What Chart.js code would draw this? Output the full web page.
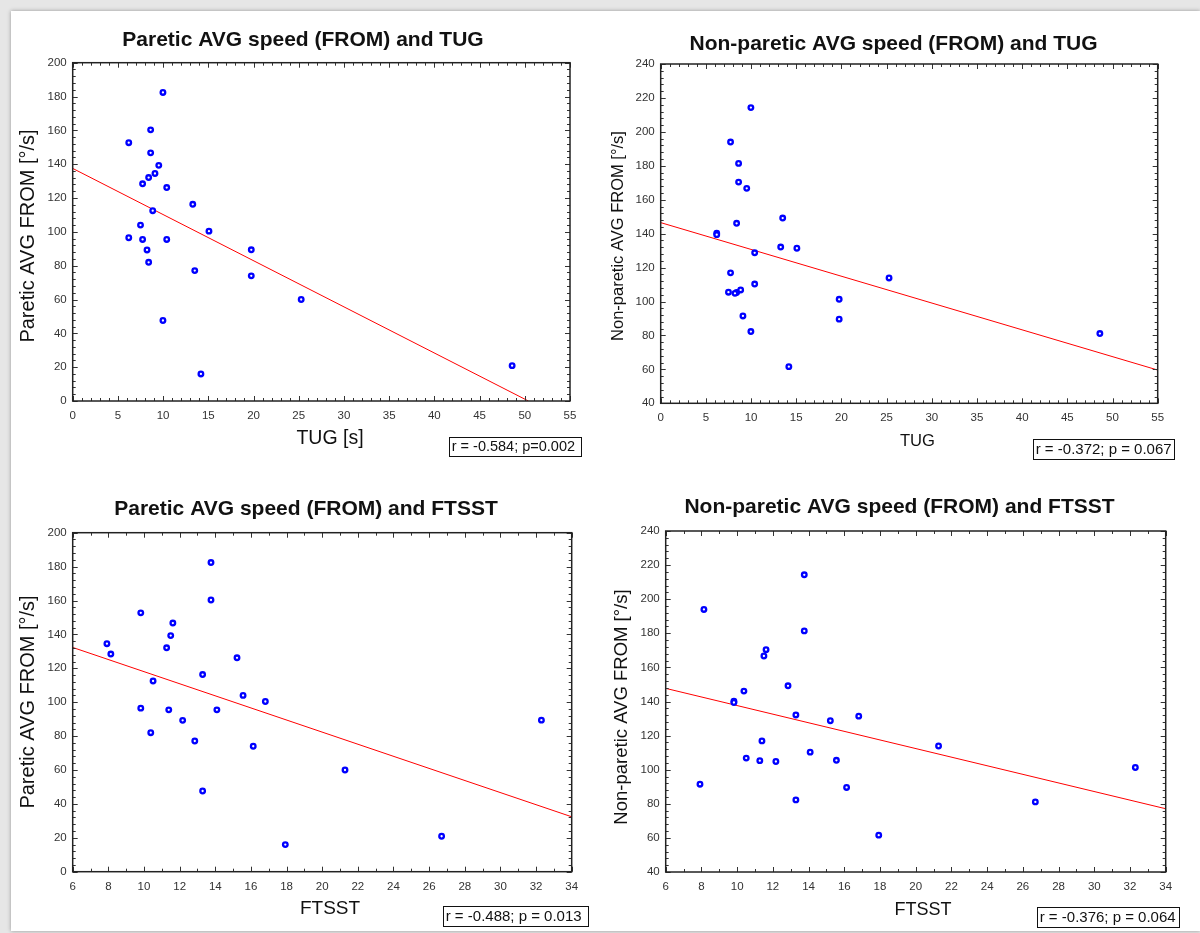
<!DOCTYPE html>
<html>
<head>
<meta charset="utf-8">
<title>AVG speed (FROM) vs TUG / FTSST</title>
<script src="https://cdn.jsdelivr.net/npm/chart.js@4.4.1/dist/chart.umd.min.js"></script>
<style>
  html, body { margin: 0; padding: 0; }
  body { width: 1200px; height: 933px; background: #e6e6e6; position: relative; overflow: hidden; }
  #sheet { position: absolute; left: 11px; top: 11px; width: 1189px; height: 920px; background: #fff; box-shadow: 0 0 4px rgba(0,0,0,0.35); }
  canvas { position: absolute; }
</style>
</head>
<body>
<div id="sheet"></div>
<canvas id="c1" width="600" height="468" style="left:0px;top:0px"></canvas>
<canvas id="c2" width="600" height="468" style="left:600px;top:0px"></canvas>
<canvas id="c3" width="600" height="465" style="left:0px;top:468px"></canvas>
<canvas id="c4" width="600" height="465" style="left:600px;top:468px"></canvas>
<script>
// one entry per subject
const tug        = [9.98, 8.62, 6.2, 8.62, 9.52, 9.1, 8.4, 7.73, 10.4, 13.28, 8.85, 7.5, 15.07, 6.2, 7.73, 10.4, 8.22, 19.75, 8.4, 13.5, 19.75, 25.27, 9.98, 48.6, 14.18];
const ftsst      = [13.76, 13.76, 9.82, 11.62, 11.5, 7.92, 11.27, 8.14, 15.22, 13.29, 10.51, 15.56, 16.81, 9.82, 11.39, 14.09, 12.17, 32.3, 10.38, 12.85, 16.13, 21.28, 13.29, 26.7, 17.93];
const paretic    = [182.4, 160.3, 152.7, 146.7, 139.3, 134.5, 132.1, 128.4, 126.2, 116.3, 112.5, 104, 100.4, 96.5, 95.5, 95.5, 89.3, 89.4, 82, 77.1, 74, 60, 47.6, 20.9, 16];
const nonParetic = [214.3, 181.4, 140.2, 170.4, 166.7, 91.5, 105.3, 194, 128.7, 132.1, 106.8, 105.5, 131.4, 139.4, 116.9, 110.3, 104.8, 101.3, 146.1, 149.2, 89.6, 113.9, 82.3, 81.1, 61.6];

// regression line end points
const fitTugParX = [0, 50.4],  fitTugParY = [137.5, 0];
const fitTugNonX = [0, 55],    fitTugNonY = [146.5, 59.6];
const fitFtsParX = [6, 34],    fitFtsParY = [132.3, 32.4];
const fitFtsNonX = [6, 34],    fitFtsNonY = [147.7, 77.1];

const titles = [
  'Paretic AVG speed (FROM) and TUG',
  'Non-paretic AVG speed (FROM) and TUG',
  'Paretic AVG speed (FROM) and FTSST',
  'Non-paretic AVG speed (FROM) and FTSST'
];
const yTitles = ['Paretic AVG FROM [°/s]', 'Non-paretic AVG FROM [°/s]', 'Paretic AVG FROM [°/s]', 'Non-paretic AVG FROM [°/s]'];
const xTitles = ['TUG [s]', 'TUG', 'FTSST', 'FTSST'];
const stats = ['r = -0.584; p=0.002', 'r = -0.372; p = 0.067', 'r = -0.488; p = 0.013', 'r = -0.376; p = 0.064'];

const FONT = '"Liberation Sans", Arial, sans-serif';
Chart.defaults.font.family = FONT;

// draws the frame, inward ticks and the panel texts
const panelDecor = {
  id: 'panelDecor',
  afterDraw(chart, args, o) {
    const ctx = chart.ctx;
    const { left, top, right, bottom } = chart.chartArea;
    const xs = chart.scales.x, ys = chart.scales.y;
    const isMajor = (v, step) => Math.abs(v / step - Math.round(v / step)) < 1e-6;

    ctx.save();
    ctx.strokeStyle = '#333';
    ctx.lineWidth = 1;
    ctx.beginPath();
    for (let v = xs.min; v <= xs.max + 1e-9; v += o.xMinor) {
      const px = Math.round(xs.getPixelForValue(v)) + 0.5;
      const len = isMajor(v, o.xMajor) ? 5 : 3;
      ctx.moveTo(px, bottom); ctx.lineTo(px, bottom - len);
      ctx.moveTo(px, top); ctx.lineTo(px, top + len);
    }
    for (let v = ys.min; v <= ys.max + 1e-9; v += o.yMinor) {
      const py = Math.round(ys.getPixelForValue(v)) + 0.5;
      const len = isMajor(v, o.yMajor) ? 5 : 3;
      ctx.moveTo(left, py); ctx.lineTo(left + len, py);
      ctx.moveTo(right, py); ctx.lineTo(right - len, py);
    }
    ctx.stroke();

    ctx.strokeStyle = '#222';
    ctx.lineWidth = 1.5;
    ctx.strokeRect(left, top, right - left, bottom - top);

    const L = o.layout, ox = L.canvas.x, oy = L.canvas.y;
    ctx.fillStyle = '#111';
    ctx.textBaseline = 'middle';
    ctx.textAlign = 'center';

    ctx.font = 'bold ' + L.title.size + 'px ' + FONT;
    ctx.fillText(o.title, L.title.x - ox, L.title.y - oy);

    ctx.font = L.xTitle.size + 'px ' + FONT;
    ctx.fillText(o.xTitle, L.xTitle.x - ox, L.xTitle.y - oy);

    ctx.save();
    ctx.translate(L.yTitle.x - ox, L.yTitle.y - oy);
    ctx.rotate(-Math.PI / 2);
    ctx.font = L.yTitle.size + 'px ' + FONT;
    ctx.fillText(o.yTitle, 0, 0);
    ctx.restore();

    const s = L.stat;
    ctx.fillStyle = '#fff';
    ctx.fillRect(s.x - ox, s.y - oy, s.w, s.h);
    ctx.strokeStyle = '#111';
    ctx.lineWidth = 1;
    ctx.strokeRect(Math.round(s.x - ox) + 0.5, Math.round(s.y - oy) + 0.5, Math.round(s.w), Math.round(s.h));
    ctx.fillStyle = '#111';
    ctx.textAlign = 'left';
    ctx.font = s.size + 'px ' + FONT;
    ctx.fillText(o.stat, s.x - ox + 3, s.y - oy + s.h / 2 + 1);
    ctx.restore();
  }
};

// page positions of each panel part
const layouts = [
  { canvas: { x: 0, y: 0, w: 600, h: 468 }, plot: { l: 72.7, t: 62.7, r: 570, b: 401 },
    title: { x: 303, y: 40, size: 21 }, yTitle: { x: 28.3, y: 236, size: 20 }, xTitle: { x: 330, y: 439, size: 19.5 },
    stat: { x: 448.7, y: 436.7, w: 132, h: 19, size: 14.5 } },
  { canvas: { x: 600, y: 0, w: 600, h: 468 }, plot: { l: 660.7, t: 64, r: 1157.7, b: 403.3 },
    title: { x: 893.5, y: 44, size: 21 }, yTitle: { x: 618, y: 236, size: 16.5 }, xTitle: { x: 917.5, y: 441.5, size: 16.6 },
    stat: { x: 1032.7, y: 439, w: 141, h: 20, size: 15 } },
  { canvas: { x: 0, y: 468, w: 600, h: 465 }, plot: { l: 72.7, t: 532.7, r: 571.7, b: 871.7 },
    title: { x: 306, y: 509, size: 21 }, yTitle: { x: 28, y: 702, size: 20 }, xTitle: { x: 330, y: 909, size: 19 },
    stat: { x: 442.7, y: 906, w: 145, h: 19.5, size: 15 } },
  { canvas: { x: 600, y: 468, w: 600, h: 465 }, plot: { l: 665.7, t: 531, r: 1165.7, b: 872 },
    title: { x: 899.5, y: 507, size: 21 }, yTitle: { x: 622, y: 707, size: 18.5 }, xTitle: { x: 923, y: 910, size: 18 },
    stat: { x: 1036.7, y: 906.7, w: 141.5, h: 20, size: 15 } }
];

const panels = [
  { x: tug,   y: paretic,    fx: fitTugParX, fy: fitTugParY, xMin: 0, xMax: 55, xMajor: 5, xMinor: 1, yMin: 0,  yMax: 200 },
  { x: tug,   y: nonParetic, fx: fitTugNonX, fy: fitTugNonY, xMin: 0, xMax: 55, xMajor: 5, xMinor: 1, yMin: 40, yMax: 240 },
  { x: ftsst, y: paretic,    fx: fitFtsParX, fy: fitFtsParY, xMin: 6, xMax: 34, xMajor: 2, xMinor: 1, yMin: 0,  yMax: 200 },
  { x: ftsst, y: nonParetic, fx: fitFtsNonX, fy: fitFtsNonY, xMin: 6, xMax: 34, xMajor: 2, xMinor: 1, yMin: 40, yMax: 240 }
];

panels.forEach(function (p, i) {
  const L = layouts[i];
  const tickFont = { size: 11.5, family: FONT };

  new Chart(document.getElementById('c' + (i + 1)), {
    type: 'scatter',
    data: {
      datasets: [{
        data: p.x.map((v, k) => ({ x: v, y: p.y[k] })),
        pointRadius: 2.3,
        pointBorderWidth: 2.3,
        pointBackgroundColor: '#ffffff',
        pointBorderColor: '#0000ff',
        showLine: false
      }, {
        type: 'line',
        data: p.fx.map((v, k) => ({ x: v, y: p.fy[k] })),
        borderColor: '#ff0000',
        borderWidth: 1,
        pointRadius: 0,
        fill: false
      }]
    },
    options: {
      responsive: false,
      animation: false,
      events: [],
      layout: {
        padding: {
          top: L.plot.t - L.canvas.y,
          right: L.canvas.x + L.canvas.w - L.plot.r,
          bottom: 0,
          left: 0
        }
      },
      plugins: {
        legend: { display: false },
        tooltip: { enabled: false },
        panelDecor: {
          layout: L, title: titles[i], xTitle: xTitles[i], yTitle: yTitles[i], stat: stats[i],
          xMajor: p.xMajor, xMinor: p.xMinor, yMajor: 20, yMinor: 4
        }
      },
      scales: {
        x: {
          type: 'linear', min: p.xMin, max: p.xMax,
          grid: { display: false, drawTicks: false },
          border: { display: false },
          ticks: { stepSize: p.xMajor, font: tickFont, color: '#333', padding: 8, maxRotation: 0, autoSkip: false },
          afterFit: function (s) { s.height = L.canvas.y + L.canvas.h - L.plot.b; }
        },
        y: {
          type: 'linear', min: p.yMin, max: p.yMax,
          grid: { display: false, drawTicks: false },
          border: { display: false },
          ticks: { stepSize: 20, font: tickFont, color: '#333', padding: 6 },
          afterFit: function (s) { s.width = L.plot.l - L.canvas.x; }
        }
      }
    },
    plugins: [panelDecor]
  });
});
</script>
</body>
</html>
